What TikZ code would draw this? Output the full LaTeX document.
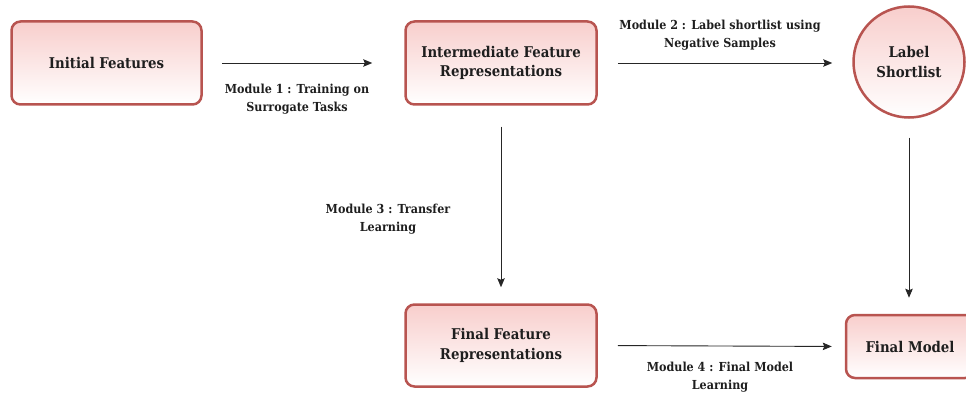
\documentclass[tikz,border=0pt]{standalone}
\usepackage{fontspec}
\setmainfont{DejaVu Serif Condensed}
\usetikzlibrary{arrows.meta}
\definecolor{boxred}{HTML}{B85450}
\definecolor{boxpink}{HTML}{F8CECC}
\definecolor{inktext}{HTML}{1E1E1E}
\tikzset{every picture/.style={/utils/exec={\bfseries}}}
\tikzset{
  featbox/.style={draw=boxred, line width=2.5pt, rounded corners=9pt, top color=boxpink, bottom color=white,
    align=center, text=inktext, font=\fontsize{14.8}{19.5}\selectfont},
  roundbox/.style={circle, draw=boxred, line width=2.5pt, top color=boxpink, bottom color=white,
    minimum size=111pt, inner sep=0pt, align=center, text=inktext, font=\fontsize{14.8}{19.5}\selectfont},
  flow/.style={-{Stealth[length=9pt,width=7.5pt,inset=1.5pt]}, line width=0.9pt, draw=black!85},
  modlabel/.style={align=center, text=inktext, font=\fontsize{12.4}{18}\selectfont}
}

\begin{document}
\begin{tikzpicture}[x=1pt,y=-1pt]
  \clip (0,0) rectangle (966,393);

  \node [featbox, minimum width=190pt, minimum height=83pt] (initial) at (106.5,63) {Initial Features};
  \node [featbox, minimum width=191pt, minimum height=83pt] (inter) at (501,63) {Intermediate Feature\\Representations};
  \node [roundbox] (shortlist) at (909,62) {Label\\Shortlist};
  \node [featbox, minimum width=191pt, minimum height=82pt] (finalrep) at (501,345.5) {Final Feature\\Representations};
  \node [featbox, minimum width=128pt, minimum height=63pt] (finalmodel) at (910,346.5) {Final Model};

  \draw [flow, shorten <=19pt, shorten >=32pt] (initial.east) -- (inter.west);
  \draw [flow, shorten <=20pt, shorten >=20pt] (inter.east) -- (inter.east -| shortlist.west);
  \draw [flow, shorten <=21pt, shorten >=16pt] (inter.south) -- (finalrep.north);
  \draw [flow, shorten <=20pt, shorten >=13pt] (finalrep.east) -- (finalmodel.west);
  \draw [flow, shorten <=19pt, shorten >=16pt] (shortlist.south) -- (shortlist.south |- finalmodel.north);

  \node [modlabel] (mod1) at (297,99) {Module 1 : Training on\\Surrogate Tasks};
  \node [modlabel] (mod2) at (720,35) {Module 2 : Label shortlist using\\Negative Samples};
  \node [modlabel] (mod3) at (388,219.5) {Module 3 : Transfer\\Learning};
  \node [modlabel] (mod4) at (720,377) {Module 4 : Final Model\\Learning};

\end{tikzpicture}
\end{document}
